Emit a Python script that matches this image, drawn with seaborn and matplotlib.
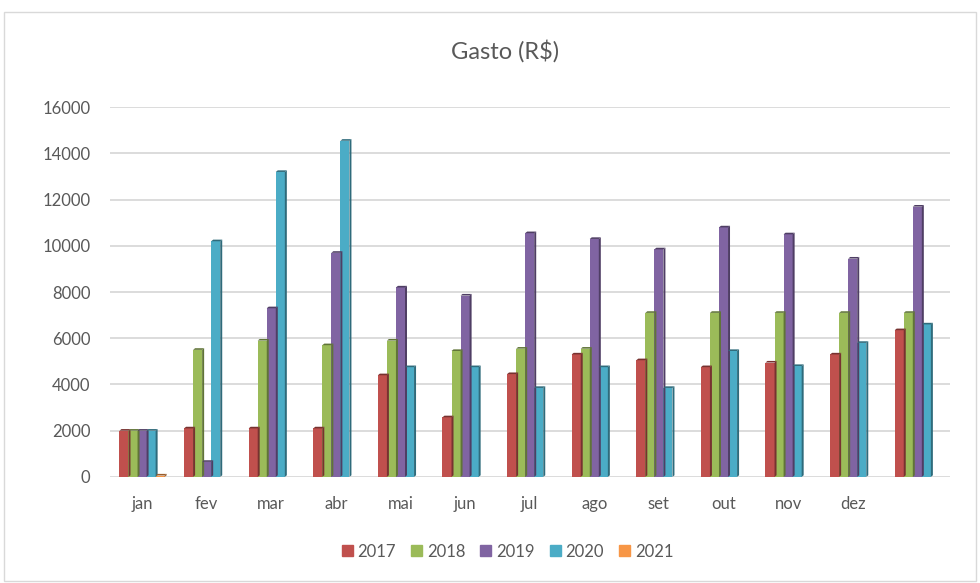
import matplotlib
matplotlib.use("Agg")
import matplotlib.pyplot as plt
from matplotlib.patches import Rectangle, Polygon
import matplotlib.colors as mcolors
import pandas as pd
import seaborn as sns

MONTHS = ["jan", "fev", "mar", "abr", "mai", "jun", "jul", "ago", "set", "out", "nov", "dez", " "]
YEARS = ["2017", "2018", "2019", "2020", "2021"]
COLORS = ["#c0504d", "#9bbb59", "#8064a2", "#4bacc6", "#f79646"]

v2017 = [2000, 2100, 2100, 2100, 4400, 2580, 4450, 5300, 5050, 4750, 4950, 5300, 6350]
v2018 = [2000, 5500, 5900, 5700, 5900, 5450, 5550, 5550, 7100, 7100, 7100, 7100, 7100]
v2019 = [2000, 650, 7300, 9700, 8200, 7850, 10550, 10300, 9850, 10800, 10500, 9450, 11700]
v2020 = [2000, 10200, 13200, 14550, 4750, 4750, 3850, 4750, 3850, 5450, 4800, 5800, 6600]
v2021 = [60, 0, 0, 0, 0, 0, 0, 0, 0, 0, 0, 0, 0]

df = pd.DataFrame({
    "mes": MONTHS * 5,
    "ano": sum([[y] * len(MONTHS) for y in YEARS], []),
    "gasto": v2017 + v2018 + v2019 + v2020 + v2021,
})

sns.set_theme(style="white")
plt.rcParams["font.family"] = ["Lato", "DejaVu Sans"]
TXT = "#595959"

fig = plt.figure(figsize=(9.8, 5.83), dpi=100)
ax = fig.add_axes([0.112, 0.182, 0.857, 0.634])
sns.barplot(data=df, x="mes", y="gasto", hue="ano", order=MONTHS, hue_order=YEARS,
            palette=COLORS, width=0.7, gap=0, saturation=1, errorbar=None,
            linewidth=0, legend=False, ax=ax)

# fake 3D side/top face on each bar
for p in list(ax.patches):
    h = p.get_height()
    if h <= 0:
        continue
    x0, w = p.get_x(), p.get_width()
    dark = [c * 0.62 for c in mcolors.to_rgb(p.get_facecolor())]
    d = w * 0.22
    ax.add_patch(Polygon([(x0 + w, 0), (x0 + w + d, 70), (x0 + w + d, h + 70), (x0 + w, h)],
                         closed=True, facecolor=dark, edgecolor="none", zorder=p.get_zorder()))
    ax.add_patch(Polygon([(x0, h), (x0 + d, h + 70), (x0 + w + d, h + 70), (x0 + w, h)],
                         closed=True, facecolor=dark, edgecolor="none", zorder=p.get_zorder()))

ax.set_ylim(0, 16000)
ax.set_xlim(-0.5, len(MONTHS) - 0.5)
ax.set_yticks(range(0, 16001, 2000))
ax.yaxis.grid(True, color="#d9d9d9", linewidth=1.3)
ax.set_axisbelow(True)
for s in ax.spines.values():
    s.set_visible(False)
ax.set_xlabel("")
ax.set_ylabel("")
ax.tick_params(axis="both", length=0, labelsize=12, colors=TXT)
ax.tick_params(axis="x", pad=14)
ax.tick_params(axis="y", pad=14)

fig.text(0.515, 0.913, "Gasto (R$)", ha="center", va="center", fontsize=17, color=TXT)

handles = [Rectangle((0, 0), 1, 1, color=c) for c in COLORS]
fig.legend(handles, YEARS, loc="center", bbox_to_anchor=(0.518, 0.054), ncol=5, frameon=False,
           fontsize=12, handlelength=0.65, handleheight=0.65, handletextpad=0.3,
           columnspacing=0.9, labelcolor=TXT)

fig.patches.append(Rectangle((0.004, 0.004), 0.992, 0.975, transform=fig.transFigure,
                             fill=False, edgecolor="#d9d9d9", linewidth=1))

fig.savefig("out.png", dpi=100)
